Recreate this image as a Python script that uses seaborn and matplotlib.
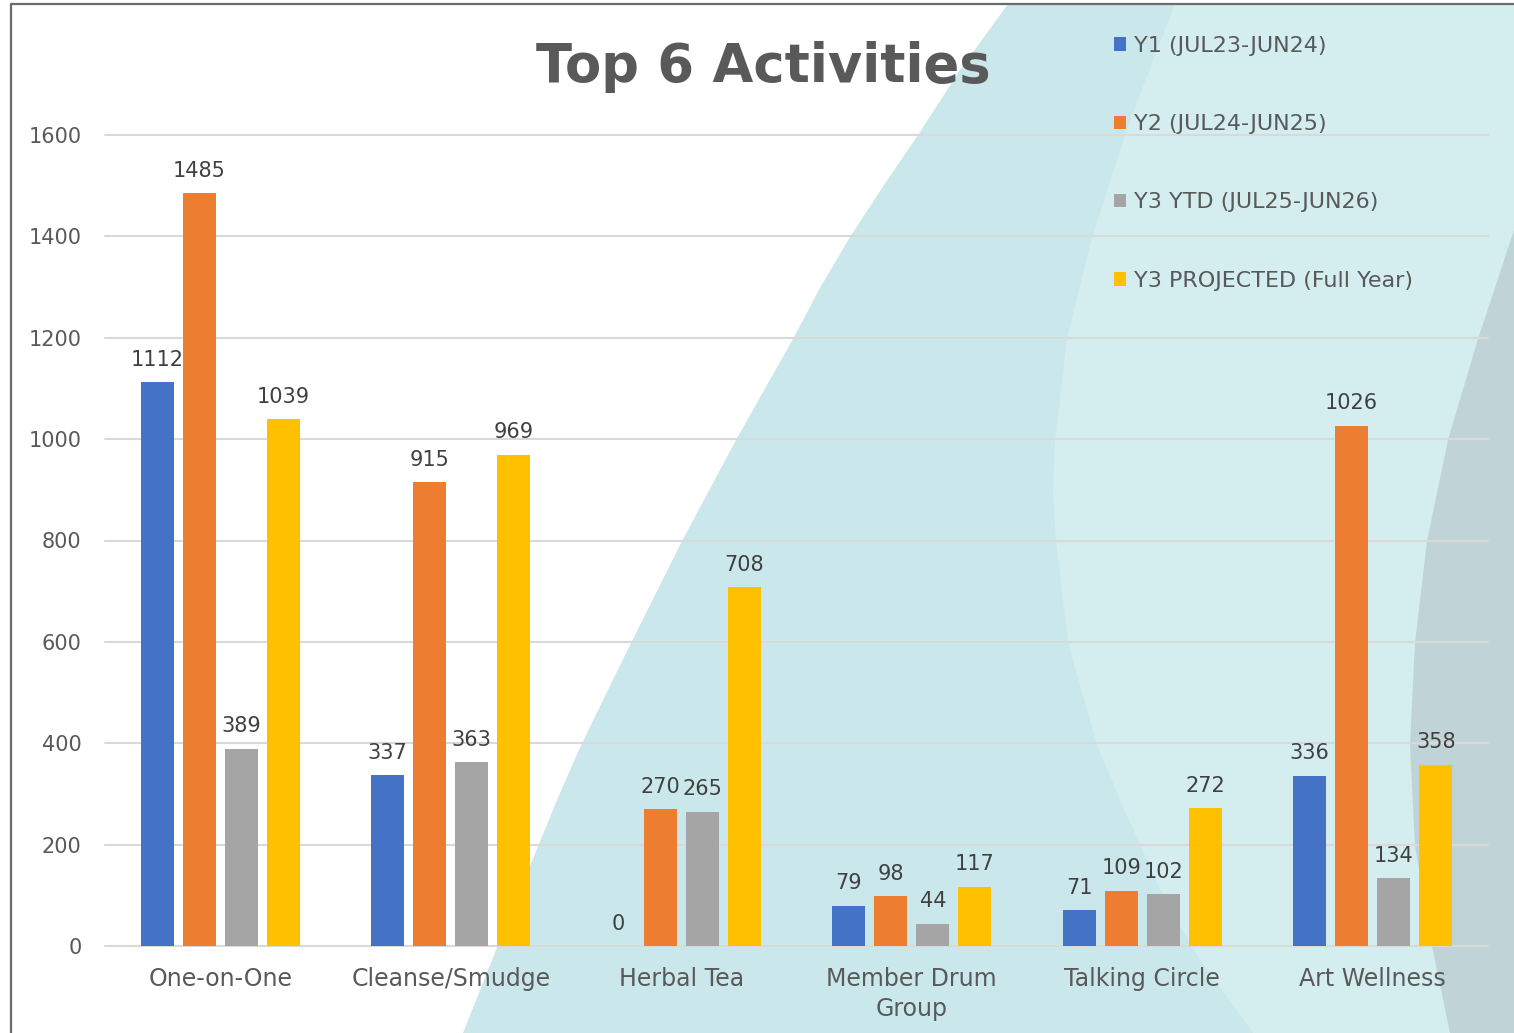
import matplotlib
matplotlib.use('Agg')
import matplotlib.pyplot as plt
import seaborn as sns
import pandas as pd

# Daten
activities = ['One-on-One', 'Cleanse/Smudge', 'Herbal Tea', 'Member Drum\nGroup', 'Talking Circle', 'Art Wellness']
series = ['Y1 (JUL23-JUN24)', 'Y2 (JUL24-JUN25)', 'Y3 YTD (JUL25-JUN26)', 'Y3 PROJECTED (Full Year)']
y1 = [1112, 337, 0, 79, 71, 336]
y2 = [1485, 915, 270, 98, 109, 1026]
y3_ytd = [389, 363, 265, 44, 102, 134]
y3_proj = [1039, 969, 708, 117, 272, 358]
colors = ['#4472C4', '#ED7D31', '#A5A5A5', '#FFC000']

rows = []
for name, vals in zip(series, [y1, y2, y3_ytd, y3_proj]):
    for act, v in zip(activities, vals):
        rows.append({'activity': act, 'series': name, 'value': v})
df = pd.DataFrame(rows)

sns.set_style('white')
plt.rcParams['font.family'] = ['DejaVu Sans']

W, H = 1514, 1033
fig = plt.figure(figsize=(W / 100, H / 100), dpi=100)

# Hintergrund (Dekoration in Pixelkoordinaten)
bg = fig.add_axes([0, 0, 1, 1], zorder=0)
bg.set_xlim(0, W)
bg.set_ylim(H, 0)
bg.axis('off')
teal_edge = [(1008, 4), (960, 70), (918, 135), (882, 188), (850, 237), (820, 288), (793, 339),
             (736, 440), (682, 541), (631, 643), (603, 700), (578, 752), (557, 800), (510, 915),
             (463, 1033)]
poly = teal_edge + [(W, H), (W, 4)]
bg.fill([p[0] for p in poly], [p[1] for p in poly], color='#cae8eb', lw=0)
light_edge = [(1175, 4), (1130, 120), (1092, 237), (1067, 339), (1055, 440), (1053, 490),
              (1056, 541), (1068, 643), (1097, 745), (1120, 800), (1165, 900), (1200, 960),
              (1253, 1033)]
poly = light_edge + [(W, H), (W, 4)]
bg.fill([p[0] for p in poly], [p[1] for p in poly], color='#d4edef', lw=0)
dark_edge = [(W, 230), (1478, 339), (1448, 440), (1427, 541), (1415, 643), (1410, 745),
             (1415, 846), (1432, 946), (1450, 1033)]
poly = dark_edge + [(W, H)]
bg.fill([p[0] for p in poly], [p[1] for p in poly], color='#c0d4d8', lw=0)
bg.plot([11, 11, W + 5], [H + 5, 4, 4], color='#6b6b6b', lw=1.6)

# Diagramm
ax = fig.add_axes([105 / W, 1 - 946 / H, (1488 - 105) / W, (946 - 135) / H], zorder=1)
ax.patch.set_alpha(0)
sns.barplot(data=df, x='activity', y='value', hue='series', palette=colors,
            width=0.73, gap=0.21, ax=ax, saturation=1, errorbar=None, linewidth=0, zorder=3)

for cont in ax.containers:
    ax.bar_label(cont, fmt='%d', padding=9, fontsize=15, color='#404040')

ax.set_ylim(0, 1600)
ax.set_yticks(range(0, 1601, 200))
ax.yaxis.grid(True, color='#d9d9d9', lw=1.5, zorder=0)
for gl in ax.get_ygridlines():
    gl.set_clip_on(False)
ax.set_axisbelow(True)
sns.despine(ax=ax, left=True, bottom=True)
ax.tick_params(axis='both', length=0, labelsize=15, labelcolor='#595959')
ax.tick_params(axis='y', pad=17)
ax.tick_params(axis='x', pad=15, labelsize=17)
ax.set_xlabel('')
ax.set_ylabel('')
ax.set_xticks(range(len(activities)))
ax.set_xticklabels(activities, linespacing=1.3)

ax.legend(loc='upper left', bbox_to_anchor=(1114 / W, 1 - 36 / H), bbox_transform=fig.transFigure,
          frameon=False, fontsize=16, labelcolor='#595959', handlelength=0.55, handleheight=0.55,
          handletextpad=0.35, labelspacing=2.62, borderpad=0, borderaxespad=0)

fig.text(763 / W, 1 - 67 / H, 'Top 6 Activities', ha='center', va='center',
         fontsize=38, fontweight='bold', color='#595959')

fig.savefig('out.png', dpi=100)
